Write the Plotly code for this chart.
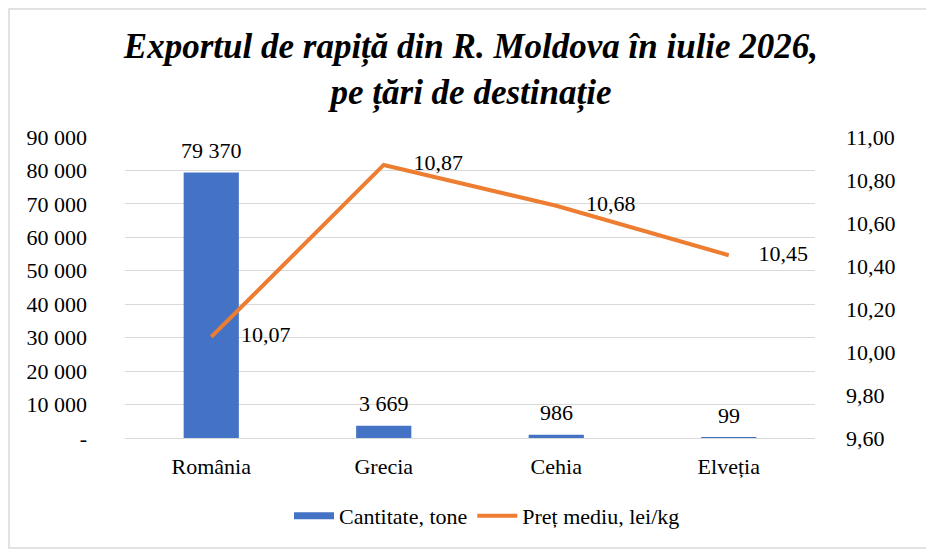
import plotly.graph_objects as go

# data
countries = ['România', 'Grecia', 'Cehia', 'Elveția']
quantity_t = [79370, 3669, 986, 99]
price_lei_kg = [10.07, 10.87, 10.68, 10.45]

left_ticks = [0, 10000, 20000, 30000, 40000, 50000, 60000, 70000, 80000, 90000]
left_labels = ['-', '10 000', '20 000', '30 000', '40 000', '50 000',
               '60 000', '70 000', '80 000', '90 000']
right_ticks = [9.6, 9.8, 10.0, 10.2, 10.4, 10.6, 10.8, 11.0]

BLUE = '#4472C4'
ORANGE = '#ED7D31'
GRID = '#D9D9D9'
FONT = 'Liberation Serif'

# the page body adds an 8px offset, so positions below are screen px minus 8
OFF = 8
W, H = 934 - OFF, 554 - OFF
L, R, T, B = 125 - OFF, 815 - OFF, 137 - OFF, 438 - OFF   # plot area


def px_x(x):
    return (max(x - OFF, 1) - L) / (R - L)


def px_y(y):
    return (B - max(y - OFF, 1)) / (B - T)


fig = go.Figure()
fig.add_trace(go.Bar(
    x=countries, y=quantity_t,
    name='Cantitate, tone', showlegend=False,
    marker=dict(color=BLUE, line=dict(width=0)),
))
# legend entry drawn as a wide blue bar, like the Excel legend key
fig.add_trace(go.Scatter(
    x=[None], y=[None], mode='lines', name='Cantitate, tone',
    line=dict(color=BLUE, width=7),
))
fig.add_trace(go.Scatter(
    x=countries, y=price_lei_kg,
    name='Preț mediu, lei/kg', yaxis='y2',
    mode='lines+markers+text',
    line=dict(color=ORANGE, width=4),
    marker=dict(size=46, color='rgba(0,0,0,0)'),
    texttemplate='%{y:.2f}', textposition='middle right',
    textfont=dict(family=FONT, size=22, color='black'),
    cliponaxis=False,
))

# bar value labels a little above the bars
for c, q in zip(countries, quantity_t):
    fig.add_annotation(x=c, y=q, text=f'{q:,}'.replace(',', ' '),
                       showarrow=False, yanchor='bottom', yshift=8,
                       font=dict(family=FONT, size=22, color='black'))

tick_font = dict(family=FONT, size=22, color='black')

fig.update_layout(
    width=W, height=H,
    margin=dict(l=L, r=W - R, t=T, b=H - B, autoexpand=False),
    paper_bgcolor='white', plot_bgcolor='white',
    font=dict(family=FONT, size=22, color='black'),
    separators=', ',
    bargap=0.68,
    title=dict(
        text='Exportul de rapiță din R. Moldova în iulie 2026,<br>pe țări de destinație',
        x=0.5, xanchor='center', y=1 - (58 - OFF) / H, yanchor='middle',
        font=dict(family=FONT, size=35, weight='bold', style='italic', color='black'),
    ),
    xaxis=dict(showgrid=False, showline=False, ticks='', ticklabelstandoff=13,
               tickfont=tick_font),
    yaxis=dict(range=[0, 90000], tickvals=left_ticks, ticktext=left_labels,
               showgrid=True, gridcolor=GRID, gridwidth=1.3,
               zeroline=True, zerolinecolor=GRID, zerolinewidth=1.3,
               showline=False, ticks='', ticklabelstandoff=37,
               tickfont=tick_font),
    yaxis2=dict(range=[9.6, 11.0], tickvals=right_ticks, tickformat='.2f',
                overlaying='y', side='right', showgrid=False, zeroline=False,
                showline=False, ticks='', ticklabelstandoff=30,
                tickfont=tick_font),
    legend=dict(orientation='h', x=px_x(487), xanchor='center',
                y=px_y(516), yanchor='middle',
                font=dict(family=FONT, size=22, color='black'),
                itemwidth=40, traceorder='normal'),
    showlegend=True,
    shapes=[dict(type='rect', xref='paper', yref='paper',
                 x0=px_x(5), x1=px_x(928), y0=px_y(548), y1=px_y(7),
                 line=dict(color=GRID, width=1.5), fillcolor='rgba(0,0,0,0)',
                 layer='below')],
)

fig.write_html('out.html')
